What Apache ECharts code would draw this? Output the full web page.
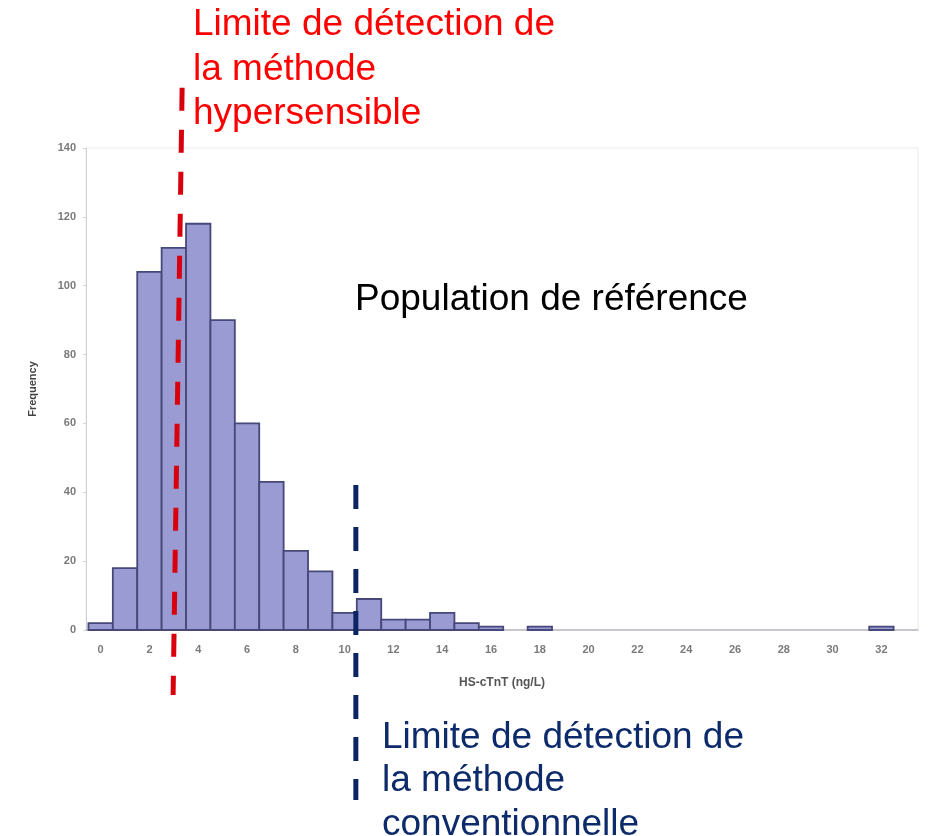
<!DOCTYPE html>
<html>
<head>
<meta charset="utf-8">
<script src="https://cdn.jsdelivr.net/npm/echarts@6/dist/echarts.min.js"></script>
<style>
  html, body { margin: 0; padding: 0; background: #ffffff; }
  #chart { width: 930px; height: 836px; }
</style>
</head>
<body>
<div id="chart"></div>
<script>
// HS-cTnT histogram of the reference population (bins of 1 ng/L centred on integers)
const binCentres = [0, 1, 2, 3, 4, 5, 6, 7, 8, 9, 10, 11, 12, 13, 14, 15, 16,
                    17, 18, 19, 20, 21, 22, 23, 24, 25, 26, 27, 28, 29, 30, 31, 32];
const counts = [2, 18, 104, 111, 118, 90, 60, 43, 23, 17, 5, 9, 3, 3, 5, 2, 1,
                0, 1, 0, 0, 0, 0, 0, 0, 0, 0, 0, 0, 0, 0, 0, 1];

const xTickLabels = [0, 2, 4, 6, 8, 10, 12, 14, 16, 18, 20, 22, 24, 26, 28, 30, 32];

// Detection limits drawn as dashed guides (x in ng/L, y in frequency units, extending past the plot)
const hsLimitLine = [[3.34, 157.5], [2.97, -18.9]];
const convLimitLine = [[10.46, 42.1], [10.46, -49.4]];

const chart = echarts.init(document.getElementById('chart'));

const axisFont = { fontFamily: 'Liberation Sans, Arial, sans-serif', fontWeight: 'bold', fontSize: 11, color: '#7a7a7a' };
const noteFont = '37px "Liberation Sans", Arial, sans-serif';

chart.setOption({
  backgroundColor: '#ffffff',
  animation: false,
  grid: {
    left: 86, right: 12, top: 148, bottom: 206,
    show: true, borderColor: '#ececec', borderWidth: 1
  },
  xAxis: {
    type: 'value',
    min: -0.6,
    max: 33.5,
    name: 'HS-cTnT (ng/L)',
    nameLocation: 'middle',
    nameGap: 47,
    nameTextStyle: { fontFamily: 'Liberation Sans, Arial, sans-serif', fontWeight: 'bold', fontSize: 12, color: '#555' },
    axisLine: { show: true, onZero: false, lineStyle: { color: '#b8b8c0', width: 1.5 } },
    axisTick: { show: false },
    splitLine: { show: false },
    axisLabel: Object.assign({ customValues: xTickLabels, margin: 14 }, axisFont)
  },
  yAxis: {
    type: 'value',
    min: 0,
    max: 140,
    interval: 20,
    name: 'Frequency',
    nameLocation: 'middle',
    nameGap: 48,
    nameTextStyle: { fontFamily: 'Liberation Sans, Arial, sans-serif', fontWeight: 'bold', fontSize: 11, color: '#444' },
    axisLine: { show: true, onZero: false, lineStyle: { color: '#cfcfd6', width: 1 } },
    axisTick: { show: true, length: 3, lineStyle: { color: '#d8d8d8' } },
    splitLine: { show: false },
    axisLabel: Object.assign({ margin: 10 }, axisFont)
  },
  series: [
    {
      type: 'custom',
      data: binCentres.map((c, i) => [c, counts[i]]),
      encode: { x: 0, y: 1 },
      renderItem: function (params, api) {
        const c = api.value(0);
        const v = api.value(1);
        if (!v) return null;
        const topLeft = api.coord([c - 0.5, v]);
        const bottomRight = api.coord([c + 0.5, 0]);
        return {
          type: 'rect',
          shape: {
            x: topLeft[0],
            y: topLeft[1],
            width: bottomRight[0] - topLeft[0],
            height: bottomRight[1] - topLeft[1]
          },
          style: { fill: '#9a9bd2', stroke: '#47487a', lineWidth: 1.8 }
        };
      },
      z: 2
    },
    {
      type: 'line',
      data: hsLimitLine,
      clip: false,
      symbol: 'none',
      silent: true,
      lineStyle: { color: '#d8000c', width: 5, type: [23, 19] },
      z: 5
    },
    {
      type: 'line',
      data: convLimitLine,
      clip: false,
      symbol: 'none',
      silent: true,
      lineStyle: { color: '#0b2463', width: 5, type: [24, 18] },
      z: 5
    }
  ],
  graphic: [
    {
      type: 'text',
      left: 193,
      top: 3,
      style: {
        text: 'Limite de détection de\nla méthode\nhypersensible',
        fill: '#ff0000',
        font: noteFont,
        lineHeight: 44.5
      }
    },
    {
      type: 'text',
      left: 355,
      top: 278,
      style: {
        text: 'Population de référence',
        fill: '#000000',
        font: noteFont,
        lineHeight: 44
      }
    },
    {
      type: 'text',
      left: 382,
      top: 716,
      style: {
        text: 'Limite de détection de\nla méthode\nconventionnelle',
        fill: '#0d2a6b',
        font: noteFont,
        lineHeight: 43.5
      }
    }
  ]
});
</script>
</body>
</html>
